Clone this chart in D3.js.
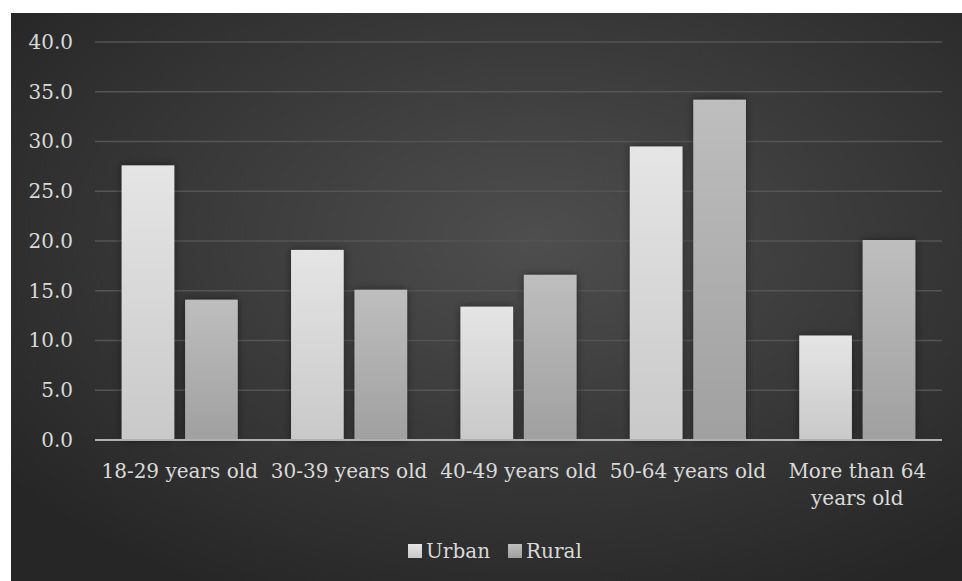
<!DOCTYPE html>
<html><head><meta charset="utf-8">
<script src="https://cdn.jsdelivr.net/npm/d3@7"></script>
<style>html,body{margin:0;padding:0;background:#fff;}svg{display:block;}</style>
</head><body>
<script>
const categories = ["18-29 years old","30-39 years old","40-49 years old","50-64 years old","More than 64 years old"];
const seriesNames = ["Urban","Rural"];
const urban = [27.6, 19.1, 13.4, 29.5, 10.5];
const rural = [14.1, 15.1, 16.6, 34.2, 20.1];
const yTicks = [0,5,10,15,20,25,30,35,40];

const W = 962, H = 581;
const svg = d3.select("body").append("svg").attr("width", W).attr("height", H);
const defs = svg.append("defs");

const bg = defs.append("radialGradient").attr("id","bg").attr("cx","55%").attr("cy","40%").attr("r","70%");
bg.append("stop").attr("offset","0%").attr("stop-color","#4e4e4e");
bg.append("stop").attr("offset","100%").attr("stop-color","#262626");

const gU = defs.append("linearGradient").attr("id","gU").attr("x1",0).attr("y1",0).attr("x2",0).attr("y2",1);
gU.append("stop").attr("offset","0%").attr("stop-color","#e5e5e5");
gU.append("stop").attr("offset","100%").attr("stop-color","#c9c9c9");
const gR = defs.append("linearGradient").attr("id","gR").attr("x1",0).attr("y1",0).attr("x2",0).attr("y2",1);
gR.append("stop").attr("offset","0%").attr("stop-color","#bebebe");
gR.append("stop").attr("offset","100%").attr("stop-color","#a0a0a0");
const sh = defs.append("filter").attr("id","sh").attr("x","-30%").attr("y","-10%").attr("width","160%").attr("height","120%");
sh.append("feDropShadow").attr("dx",0).attr("dy",0).attr("stdDeviation",4).attr("flood-color","#000").attr("flood-opacity",0.45);

svg.append("rect").attr("x",11).attr("y",13).attr("width",W-11).attr("height",H-13).attr("fill","url(#bg)");

const x0 = d3.scaleBand().domain(categories).range([95, 942]).paddingInner(0).paddingOuter(0);
const x1 = d3.scaleBand().domain(seriesNames).range([0, x0.bandwidth()]).paddingInner(0.17).paddingOuter(0.42);
const y = d3.scaleLinear().domain([0,40]).range([440, 42]);

const font = "'DejaVu Serif', serif";
const txt = "#d9d9d9";
const fs = "20px";

// gridlines
svg.append("g").selectAll("line").data(yTicks.filter(d=>d>0)).join("line")
  .attr("x1",95).attr("x2",942).attr("y1",d=>y(d)).attr("y2",d=>y(d))
  .attr("stroke","#555").attr("stroke-width",1.5);

// y axis labels
const yAxis = d3.axisLeft(y).tickValues(yTicks).tickFormat(d3.format(".1f")).tickSize(0).tickPadding(0);
const ya = svg.append("g").attr("transform","translate(73,0)").call(yAxis);
ya.select(".domain").remove();
ya.selectAll("text").attr("fill",txt).style("font-family",font).style("font-size",fs);

// bars
const colors = {Urban:"url(#gU)", Rural:"url(#gR)"};
const rows = categories.map((c,i)=>({cat:c, vals:[{k:"Urban",v:urban[i]},{k:"Rural",v:rural[i]}]}));
const gcat = svg.append("g").selectAll("g").data(rows).join("g").attr("transform",d=>`translate(${x0(d.cat)},0)`);
gcat.selectAll("rect").data(d=>d.vals).join("rect")
  .attr("x",d=>x1(d.k)).attr("width",x1.bandwidth())
  .attr("y",d=>y(d.v)).attr("height",d=>y(0)-y(d.v))
  .attr("fill",d=>colors[d.k]).attr("filter","url(#sh)");

// x axis line
svg.append("line").attr("x1",95).attr("x2",942).attr("y1",y(0)).attr("y2",y(0)).attr("stroke","#b0b0b0").attr("stroke-width",2);

// x labels
const xl = svg.append("g").selectAll("text").data(categories).join("text")
  .attr("x",d=>x0(d)+x0.bandwidth()/2).attr("y",478)
  .attr("text-anchor","middle").attr("fill",txt).style("font-family",font).style("font-size",fs);
xl.each(function(d){
  const t = d3.select(this);
  if (d === "More than 64 years old") {
    t.append("tspan").attr("x",x0(d)+x0.bandwidth()/2).attr("dy",0).text("More than 64");
    t.append("tspan").attr("x",x0(d)+x0.bandwidth()/2).attr("dy",27).text("years old");
  } else t.text(d);
});

// legend
const leg = svg.append("g");
const legItems = [{k:"Urban",x:408},{k:"Rural",x:508}];
legItems.forEach(it=>{
  leg.append("rect").attr("x",it.x).attr("y",544).attr("width",14).attr("height",14).attr("fill",colors[it.k]);
  leg.append("text").attr("x",it.x+18).attr("y",558).attr("fill",txt).style("font-family",font).style("font-size",fs).text(it.k);
});
</script>
</body></html>
